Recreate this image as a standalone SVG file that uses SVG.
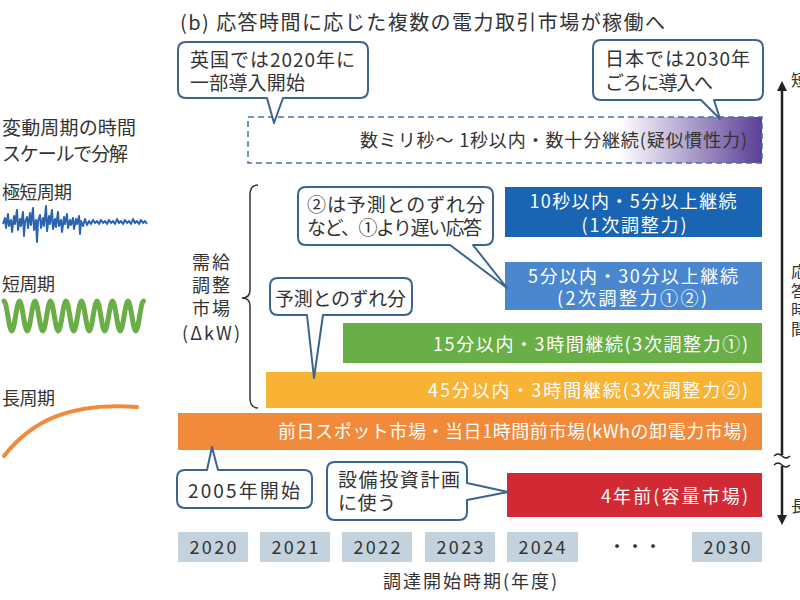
<svg xmlns="http://www.w3.org/2000/svg" width="800" height="600" viewBox="0 0 800 600">
<defs>
<style>
text{font-family:"Noto Sans CJK JP","Noto Sans",sans-serif;fill:#333;}
.t20{font-size:20px;}
.t19{font-size:19px;}
.t18{font-size:18px;}
.t17{font-size:17px;}
.t16{font-size:16px;}
.w{fill:#fff;}
.mid{text-anchor:middle;}
.end{text-anchor:end;}
.call{fill:#fff;stroke:#3c6491;stroke-width:2;stroke-linejoin:round;}
.yr{fill:#c3d2dc;}
.vert{writing-mode:vertical-rl;letter-spacing:3px;}
</style>
<linearGradient id="purp" gradientUnits="userSpaceOnUse" x1="620" y1="0" x2="762" y2="0">
<stop offset="0" stop-color="#fff"/>
<stop offset="1" stop-color="#5a3e96"/>
</linearGradient>
<marker id="ah" markerWidth="10" markerHeight="10" refX="5" refY="5" orient="auto" markerUnits="userSpaceOnUse">
<path d="M0,0 L10,5 L0,10 Z" fill="#222"/>
</marker>
</defs>
<rect width="800" height="600" fill="#fff"/>

<text class="t20" x="180" y="30" textLength="485">(b) 応答時間に応じた複数の電力取引市場が稼働へ</text>

<g id="left-labels">
<text class="t19" x="2" y="135" textLength="134">変動周期の時間</text>
<text class="t19" x="2" y="161" textLength="126">スケールで分解</text>
<text class="t18" x="2" y="199" textLength="70">極短周期</text>
<text class="t18" x="2" y="291" textLength="53">短周期</text>
<text class="t18" x="2" y="405" textLength="53">長周期</text>
<path d="M3,224 L5,218 L6,228 L8,214 L9,226 L11,220 L12,232 L14,216 L15,224 L17,210 L18,230 L20,219 L21,226 L23,212 L24,236 L25,222 L27,217 L28,228 L30,213 L31,225 L33,208 L34,230 L36,220 L37,242 L38,221 L40,215 L41,228 L43,218 L44,226 L46,206 L47,231 L49,216 L50,224 L52,210 L53,229 L55,219 L56,227 L58,212 L59,226 L61,220 L62,232 L64,217 L65,224 L67,214 L68,228 L70,220 L71,225 L73,218 L74,229 L76,219 L77,224 L79,216 L80,234 L81,221 L83,226 L85,219 L87,225 L89,221 L91,224 L93,220 L95,223 L97,221 L99,224 L101,220 L103,223 L105,221 L107,224 L109,220 L111,223 L113,221 L115,224 L117,219 L119,223 L121,221 L123,224 L125,220 L127,223 L129,221 L131,224 L133,219 L135,223 L137,221 L139,224 L141,220 L143,223 L145,221 L147,224" fill="none" stroke="#2a64b0" stroke-width="2" stroke-linejoin="round"/>
<path d="M4,301 c2.82,0 4.93,30 7.75,30 s4.93,-30 7.75,-30 s4.93,30 7.75,30 s4.93,-30 7.75,-30 s4.93,30 7.75,30 s4.93,-30 7.75,-30 s4.93,30 7.75,30 s4.93,-30 7.75,-30 s4.93,30 7.75,30 s4.93,-30 7.75,-30 s4.93,30 7.75,30 s4.93,-30 7.75,-30 s4.93,30 7.75,30 s4.93,-30 7.75,-30 s4.93,30 7.75,30 s4.93,-30 7.75,-30 s4.93,30 7.75,30 s4.93,-30 7.75,-30" fill="none" stroke="#6aae47" stroke-width="5" stroke-linecap="round"/>
<path d="M4,456 C32,420 72,402 137,407" fill="none" stroke="#f28a3b" stroke-width="4" stroke-linecap="round"/>
</g>

<g id="demand-label">
<path d="M258,185 Q250,185 250,195 V290 Q250,298 242,298 Q250,298 250,306 V398 Q250,408 258,408" fill="none" stroke="#333" stroke-width="1.5"/>
<text class="t18 mid" x="211" y="269" textLength="38">需給</text>
<text class="t18 mid" x="211" y="292" textLength="38">調整</text>
<text class="t18 mid" x="211" y="315" textLength="38">市場</text>
<text class="t18 mid" x="211" y="340" textLength="58">(ΔkW)</text>
</g>

<g id="pseudo-inertia">
<rect x="248" y="117" width="514" height="46" fill="url(#purp)" stroke="#4a70a8" stroke-width="1.5" stroke-dasharray="6,4"/>
<text class="t18" x="360" y="147" textLength="387">数ミリ秒〜 1秒以内・数十分継続(疑似慣性力)</text>
</g>

<g id="primary">
<rect x="505" y="187" width="257" height="50" fill="#1a64b4"/>
<text class="t18 w mid" x="633" y="208" textLength="207">10秒以内・5分以上継続</text>
<text class="t18 w mid" x="634" y="232" textLength="105">(1次調整力)</text>
</g>
<g id="secondary">
<rect x="505" y="262" width="257" height="48" fill="#4a87cf"/>
<text class="t18 w mid" x="633" y="283" textLength="210">5分以内・30分以上継続</text>
<text class="t18 w mid" x="632" y="305" textLength="150">(2次調整力①②)</text>
</g>
<g id="tertiary1">
<rect x="343" y="323" width="419" height="40" fill="#6aae47"/>
<text class="t18 w end" x="748" y="351" textLength="315">15分以内・3時間継続(3次調整力①)</text>
</g>
<g id="tertiary2">
<rect x="266" y="372" width="496" height="36" fill="#f8b234"/>
<text class="t18 w end" x="748" y="397" textLength="320">45分以内・3時間継続(3次調整力②)</text>
</g>
<g id="wholesale">
<rect x="178" y="413" width="584" height="37" fill="#f28a3b"/>
<text class="t18 w end" x="748" y="438" textLength="470">前日スポット市場・当日1時間前市場(kWhの卸電力市場)</text>
</g>
<g id="capacity">
<rect x="507" y="473" width="255" height="44" fill="#d22a35"/>
<text class="t18 w end" x="748" y="503" textLength="147">4年前(容量市場)</text>
</g>

<g id="callout-uk">
<path class="call" d="M186,42 H360 Q368,42 368,50 V90 Q368,98 360,98 H283 L274,123 L267,98 H186 Q178,98 178,90 V50 Q178,42 186,42 Z"/>
<text class="t19" x="190" y="67" textLength="165">英国では2020年に</text>
<text class="t19" x="190" y="90" textLength="115">一部導入開始</text>
</g>
<g id="callout-japan">
<path class="call" d="M601,40 H755 Q763,40 763,48 V92 Q763,100 755,100 H714 L720,119 L701,100 H601 Q593,100 593,92 V48 Q593,40 601,40 Z"/>
<text class="t19" x="605" y="66" textLength="145">日本では2030年</text>
<text class="t19" x="605" y="90" textLength="108">ごろに導入へ</text>
</g>
<g id="callout-secondary">
<path class="call" d="M306,187 H485 Q493,187 493,195 V237 Q493,245 485,245 H473 L507,288 L450,245 H306 Q298,245 298,237 V195 Q298,187 306,187 Z"/>
<text class="t19" x="307" y="212" textLength="178">②は予測とのずれ分</text>
<text class="t19" x="307" y="235" textLength="175">など、①より遅い応答</text>
</g>
<g id="callout-forecast">
<path class="call" d="M278,278 H404 Q412,278 412,286 V307 Q412,315 404,315 H323 L314,378 L307,315 H278 Q270,315 270,307 V286 Q270,278 278,278 Z"/>
<text class="t19" x="275" y="306" textLength="131">予測とのずれ分</text>
</g>
<g id="callout-2005">
<path class="call" d="M185,470 H207 L212,447 L218,470 H304 Q312,470 312,478 V500 Q312,508 304,508 H185 Q177,508 177,500 V478 Q177,470 185,470 Z"/>
<text class="t19" x="188" y="498" textLength="112">2005年開始</text>
</g>
<g id="callout-capacity">
<path class="call" d="M335,462 H459 Q467,462 467,470 V483 L508,492 L467,500 V512 Q467,520 459,520 H335 Q327,520 327,512 V470 Q327,462 335,462 Z"/>
<text class="t19" x="338" y="487" textLength="122">設備投資計画</text>
<text class="t19" x="338" y="510" textLength="58">に使う</text>
</g>

<g id="years">
<rect class="yr" x="178" y="532" width="70" height="30"/>
<rect class="yr" x="260" y="532" width="70" height="30"/>
<rect class="yr" x="342" y="532" width="70" height="30"/>
<rect class="yr" x="425" y="532" width="70" height="30"/>
<rect class="yr" x="507" y="532" width="71" height="30"/>
<rect class="yr" x="692" y="532" width="70" height="30"/>
<text class="t18 mid" x="213" y="554" textLength="47">2020</text>
<text class="t18 mid" x="295" y="554" textLength="47">2021</text>
<text class="t18 mid" x="377" y="554" textLength="47">2022</text>
<text class="t18 mid" x="460" y="554" textLength="47">2023</text>
<text class="t18 mid" x="542" y="554" textLength="47">2024</text>
<text class="t18 mid" x="635" y="553">・・・</text>
<text class="t18 mid" x="727" y="554" textLength="47">2030</text>
<text class="t18 mid" x="470" y="588" textLength="174">調達開始時期(年度)</text>
</g>

<g id="connectors">
<line x1="782" y1="455" x2="782" y2="86" stroke="#222" stroke-width="2.5" marker-end="url(#ah)"/>
<line x1="782" y1="466" x2="782" y2="520" stroke="#222" stroke-width="2.5" marker-end="url(#ah)"/>
<path d="M774,456 q4,-4 8,0 t8,0 M774,465 q4,-4 8,0 t8,0" fill="none" stroke="#222" stroke-width="1.2"/>
</g>
<g id="axis-labels">
<text class="t16" x="791" y="86">短</text>
<text class="t16 vert" x="799" y="264">応答時間</text>
<text class="t16" x="791" y="512">長</text>
</g>
</svg>
